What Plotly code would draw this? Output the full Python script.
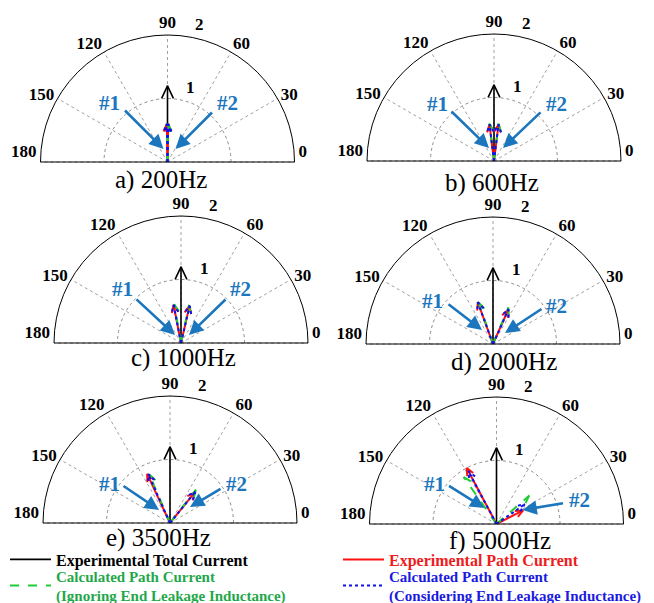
import math
import plotly.graph_objects as go

W, H = 654, 603

# ---------------- data ----------------
panel_labels = ["a) 200Hz", "b) 600Hz", "c) 1000Hz", "d) 2000Hz", "e) 3500Hz", "f) 5000Hz"]
angle_ticks = [0, 30, 60, 90, 120, 150, 180]
radial_ticks = [1, 2]
radial_labels = ["1", "2"]

total_mag = [1.2, 1.2, 1.2, 1.2, 1.2, 1.2]
total_ang = [90, 90, 90, 90, 90, 90]

exp1_mag = [0.60, 0.58, 0.61, 0.70, 0.85, 1.00]
exp1_ang = [91, 97, 101, 110, 115, 118]
exp2_mag = [0.60, 0.58, 0.60, 0.59, 0.62, 0.47]
exp2_ang = [89, 83, 77, 66, 51, 27]

ign1_mag = [0.60, 0.59, 0.62, 0.69, 0.83, 0.90]
ign1_ang = [91, 97, 100, 109, 113, 125]
ign2_mag = [0.60, 0.59, 0.61, 0.62, 0.66, 0.68]
ign2_ang = [89, 83, 78, 67, 52, 41]

con1_mag = [0.60, 0.58, 0.61, 0.70, 0.84, 0.94]
con1_ang = [91, 97, 101, 110, 114, 118]
con2_mag = [0.60, 0.58, 0.60, 0.60, 0.63, 0.54]
con2_ang = [89, 83, 77, 66, 51, 35]

series_names = [
    "Experimental Total Current",
    "<span style='color:#ee1c1c'>Experimental Path Current</span>",
    "<span style='color:#1fa84a'>Calculated Path Current<br>(Ignoring End Leakage Inductance)</span>",
    "<span style='color:#1a1ae0'>Calculated Path Current<br>(Considering End Leakage Inductance)</span>",
]
series_legend = ["legend", "legend2", "legend3", "legend4"]

# ---------------- layout geometry (pixels) ----------------
centers = [(167.5, 162), (494, 161), (181, 343), (493, 344), (170, 523), (496.5, 524)]
R = 127
title_pos = [(161, 180), (492, 183), (183, 358), (504, 362), (158, 538), (500, 541)]
lab1 = [(-58, -59), (-57, -57), (-59, -54), (-61, -43), (-61, -39), (-62, -40)]
lab2 = [(60, -59), (62, -57), (59, -54), (63, -38), (66, -39), (83, -24)]
arr1 = [((-44, -53), (-4, -13)), ((-44, -51), (-5, -13)), ((-46, -45), (-6, -8)),
        ((-46, -41), (-11, -14)), ((-48, -38), (-11, -13)), ((-49, -39), (-12, -16))]
arr2 = [((46, -51), (8, -13)), ((48, -50), (9, -13)), ((46, -45), (8, -8)),
        ((50, -36), (12, -11)), ((52, -35), (20, -16)), ((68, -21), (26, -14))]
legend_pos = [(5, 559.5), (338, 559.5), (5, 585.5), (338, 585.5)]
legend_fsize = [16, 16, 15, 15]

FONT = "Liberation Serif"
BLUE_LBL = "#1c76bd"


def px(x):
    return x / W


def py(y):
    return 1 - y / H


def arrow_path(mags, angs, head, spread):
    rs, ths = [], []
    for m, a in zip(mags, angs):
        t = math.radians(a)
        x, y = m * math.cos(t), m * math.sin(t)
        barbs = []
        for s in (1, -1):
            b = t + math.pi + s * math.radians(spread)
            bx, by = x + head * math.cos(b), y + head * math.sin(b)
            barbs.append((math.hypot(bx, by), math.degrees(math.atan2(by, bx))))
        rs += [0, m, None, barbs[0][0], m, barbs[1][0], None]
        ths += [a, a, None, barbs[0][1], a, barbs[1][1], None]
    return rs, ths


fig = go.Figure()
layout = {}
annotations = []


def text_ann(x, y, text, font):
    return dict(x=px(x), y=py(y), xref="paper", yref="paper", text=text,
                xanchor="center", yanchor="middle", showarrow=False, font=font)


tick_text = [f"{v}<br> " if v in (0, 180) else str(v) for v in angle_ticks]

for i in range(6):
    sub = "polar" if i == 0 else f"polar{i+1}"
    cx, cy = centers[i]
    layout[sub] = dict(
        domain=dict(x=[px(cx - R), px(cx + R)], y=[py(cy), py(cy - R)]),
        sector=[0, 180],
        bgcolor="white",
        angularaxis=dict(
            tickmode="array", tickvals=angle_ticks, ticktext=tick_text,
            direction="counterclockwise", rotation=0,
            showline=True, linecolor="black", linewidth=1,
            showgrid=True, gridcolor="#a0a0a0", griddash="dot", gridwidth=0.9,
            ticks="", tickfont=dict(family=FONT, size=17, color="black", weight="bold"),
        ),
        radialaxis=dict(
            range=[0, 2], tickmode="array", tickvals=radial_ticks,
            showline=False, showticklabels=False, ticks="",
            showgrid=True, gridcolor="#8a8a8a", griddash="dot", gridwidth=1,
            angle=90,
        ),
    )

    specs = [
        ([total_mag[i]], [total_ang[i]], "black", "solid", 1.6, 0.22, 25, 0),
        ([exp1_mag[i], exp2_mag[i]], [exp1_ang[i], exp2_ang[i]], "#ff1010", "solid", 2, 0.13, 24, 1),
        ([ign1_mag[i], ign2_mag[i]], [ign1_ang[i], ign2_ang[i]], "#22cc33", "dash", 2, 0.13, 24, 2),
        ([con1_mag[i], con2_mag[i]], [con1_ang[i], con2_ang[i]], "#1010ee", "dot", 2, 0.13, 24, 3),
    ]
    for mags, angs, col, dash, lw, head, spread, k in specs:
        rs, ths = arrow_path(mags, angs, head, spread)
        fig.add_trace(go.Scatterpolar(
            r=rs, theta=ths, mode="lines", subplot=sub,
            line=dict(color=col, width=lw, dash=dash),
            name=series_names[k], legendgroup=str(k),
            legend=series_legend[k],
            showlegend=(i == 0), hoverinfo="skip",
        ))

    # radial tick labels
    for rv, txt, dx in zip(radial_ticks, radial_labels, [23, 32]):
        annotations.append(text_ann(cx + dx, cy - rv * R / 2 - 11, txt,
                                    dict(family=FONT, size=17, weight="bold", color="black")))
    # panel title
    tx, ty = title_pos[i]
    annotations.append(text_ann(tx, ty, panel_labels[i], dict(family=FONT, size=25, color="black")))
    # path labels and pointer arrows
    for lab, txt, arr in ((lab1[i], "#1", arr1[i]), (lab2[i], "#2", arr2[i])):
        annotations.append(text_ann(cx + lab[0], cy + lab[1], txt,
                                    dict(family=FONT, size=21, weight="bold", color=BLUE_LBL)))
        (tlx, tly), (hx, hy) = arr
        annotations.append(dict(
            x=px(cx + hx), y=py(cy + hy), xref="paper", yref="paper", text="",
            showarrow=True, ax=tlx - hx, ay=tly - hy, axref="pixel", ayref="pixel",
            arrowhead=2, arrowsize=1.1, arrowwidth=2.6, arrowcolor=BLUE_LBL,
            standoff=0, startstandoff=0,
        ))

for name, (lx, ly), fs in zip(series_legend, legend_pos, legend_fsize):
    layout[name] = dict(
        x=px(lx), y=py(ly), orientation="v", xanchor="left", yanchor="middle", itemwidth=41,
        font=dict(family=FONT, size=fs, color="black", weight="bold"),
        bgcolor="rgba(0,0,0,0)", tracegroupgap=0, itemclick=False, itemdoubleclick=False,
    )

fig.update_layout(
    **layout,
    annotations=annotations,
    width=W, height=H,
    margin=dict(l=0, r=0, t=0, b=0, autoexpand=False),
    paper_bgcolor="white",
    showlegend=True,
)

fig.write_html("out.html")
